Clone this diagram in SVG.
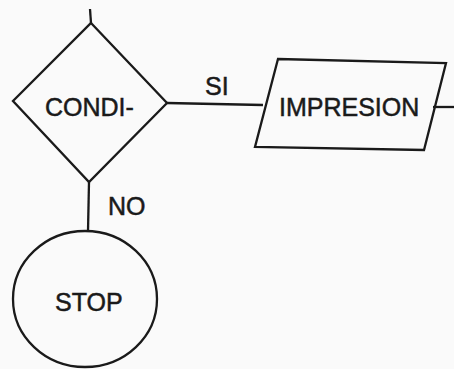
<svg xmlns="http://www.w3.org/2000/svg" width="454" height="369" viewBox="0 0 454 369">
<style>
.s{fill:none;stroke:#1a1a1a;stroke-width:2.3;stroke-linejoin:miter}
.t{font-family:"Liberation Sans",Arial,sans-serif;font-size:25px;fill:#1a1a1a;stroke:#1a1a1a;stroke-width:0.5}
</style>
<rect width="454" height="369" fill="#fafafa"/>
<g id="connectors">
<path class="s" d="M90,9 L91,23"/>
<path class="s" d="M167,103 L263,105"/>
<path class="s" d="M433,107 L454,107"/>
<path class="s" d="M89,182 L88,231"/>
<text class="t" x="205" y="95">SI</text>
<text class="t" x="108" y="215">NO</text>
</g>
<g id="condition">
<polygon class="s" points="91,23 167,103 89,182 13,101"/>
<text class="t" x="45" y="116">CONDI-</text>
</g>
<g id="impresion">
<polygon class="s" points="278,59 446,63 424,150 255,147"/>
<text class="t" x="279" y="116">IMPRESION</text>
</g>
<g id="stop">
<ellipse class="s" cx="85" cy="299" rx="72" ry="68"/>
<text class="t" x="55" y="311">STOP</text>
</g>
</svg>
